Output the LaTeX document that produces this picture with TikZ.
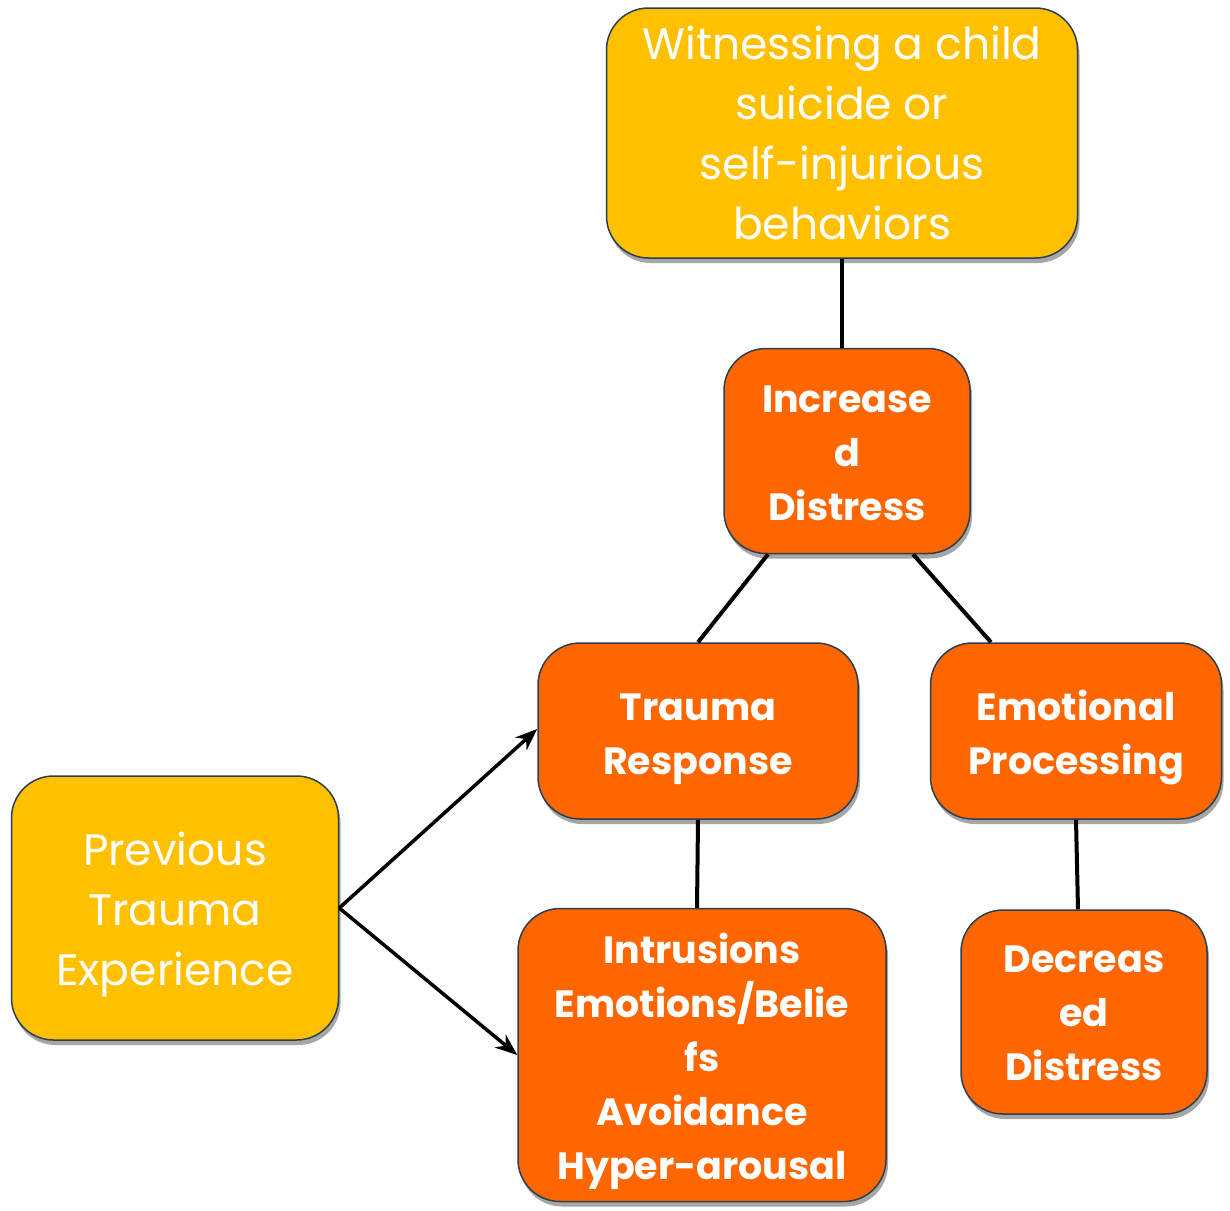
\documentclass[tikz,border=0pt]{standalone}
\usepackage{fontspec}
\setmainfont{Poppins}
\usetikzlibrary{shadows,arrows.meta}
\definecolor{yel}{HTML}{FFC000}
\definecolor{org}{HTML}{FF6600}
\definecolor{edge}{HTML}{2B3F50}
\newcommand\dn[2]{\raisebox{-#1}[\height][\depth]{#2}}
\tikzset{
  box/.style={draw=edge, line width=1.5pt, rounded corners=42pt, align=center, text=white, inner sep=0pt,
    drop shadow={shadow xshift=2pt, shadow yshift=-5pt, opacity=0.35, fill=black}},
  ybox/.style={box, fill=yel, font=\fontsize{44}{60}\selectfont},
  obox/.style={box, fill=org, font=\bfseries\fontsize{38}{54}\selectfont},
  link/.style={line width=4pt, black},
  arr/.style={line width=3.5pt, black, -{Stealth[length=22pt, width=17pt, inset=7pt]}}
}
\begin{document}
\begin{tikzpicture}[x=1pt,y=-1pt]
\useasboundingbox (0,0) rectangle (1230,1210);
\node[ybox, minimum width=471pt, minimum height=250pt] (wit) at (842,133) {Witnessing a child\\suicide or\\self-injurious\\behaviors};
\node[obox, minimum width=246pt, minimum height=205pt] (inc) at (847,451) {\dn{2pt}{Increase}\\\dn{2pt}{d}\\\dn{2pt}{Distress}};
\node[obox, minimum width=320pt, minimum height=176pt] (tra) at (698,731) {\dn{8pt}{Trauma}\\\dn{8pt}{Response}};
\node[obox, minimum width=291pt, minimum height=176pt] (emo) at (1076,731) {\dn{6pt}{Emotional}\\\dn{6pt}{Processing}};
\node[ybox, minimum width=327pt, minimum height=264pt] (pre) at (175,908) {\dn{6pt}{Previous}\\\dn{6pt}{Trauma}\\\dn{6pt}{Experience}};
\node[obox, minimum width=368pt, minimum height=293pt] (int) at (702,1055) {\dn{6pt}{Intrusions}\\\dn{6pt}{Emotions/Belie}\\\dn{6pt}{fs}\\\dn{6pt}{Avoidance}\\\dn{6pt}{Hyper-arousal}};
\node[obox, minimum width=246pt, minimum height=204pt] (dec) at (1084,1012) {\dn{1pt}{Decreas}\\\dn{1pt}{ed}\\\dn{1pt}{Distress}};
\draw[link] (wit.south) -- ([xshift=-5pt]inc.north);
\draw[link] ([xshift=-79pt]inc.south) -- (tra.north);
\draw[link] ([xshift=66pt]inc.south) -- ([xshift=-85pt]emo.north);
\draw[link] (tra.south) -- ([xshift=-5pt]int.north);
\draw[link] (emo.south) -- ([xshift=-6pt]dec.north);
\draw[arr] (pre.east) -- ([yshift=2pt]tra.west);
\draw[arr] (pre.east) -- (int.west);
\end{tikzpicture}
\end{document}
